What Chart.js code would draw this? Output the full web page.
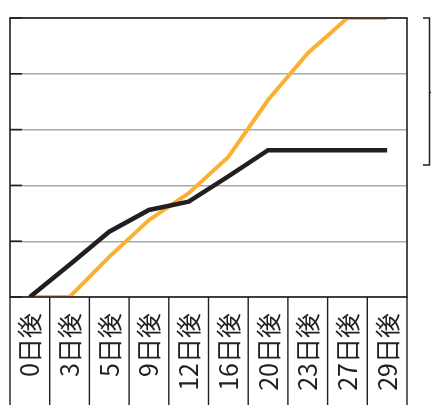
<!DOCTYPE html>
<html>
<head>
<meta charset="utf-8">
<script src="https://cdn.jsdelivr.net/npm/chart.js@4/dist/chart.umd.min.js"></script>
<style>
  html, body { margin: 0; padding: 0; background: #fff; }
  #wrap { width: 431px; height: 405px; }
</style>
</head>
<body>
<div id="wrap"><canvas id="c" width="431" height="405"></canvas></div>
<script>
const DAY_LABELS = ['0日後', '3日後', '5日後', '9日後', '12日後', '16日後', '20日後', '23日後', '27日後', '29日後'];

// values (axis 0..5, no tick labels shown)
const blackSeries = [0, 0.58, 1.17, 1.56, 1.71, 2.16, 2.63, 2.63, 2.63, 2.63];
const orangeSeries = [0, 0, 0.72, 1.38, 1.86, 2.51, 3.53, 4.37, 5, 5];

const Y_MIN = 0;
const Y_MAX = 5;

const DARK = '#231f20';
const ORANGE = '#fbb034';
const GRID = '#a7a9ac';

// frame, inner y ticks, category separators below the axis, bracket on the right
const decoPlugin = {
  id: 'deco',
  afterDraw(chart) {
    const ctx = chart.ctx;
    const area = chart.chartArea;
    const xs = chart.scales.x;
    const ys = chart.scales.y;
    ctx.save();
    ctx.strokeStyle = DARK;
    ctx.lineWidth = 1.6;
    ctx.strokeRect(area.left, area.top, area.right - area.left, area.bottom - area.top);

    // short tick marks inside the left edge
    ys.ticks.forEach(t => {
      const y = ys.getPixelForValue(t.value);
      ctx.beginPath();
      ctx.moveTo(area.left, y);
      ctx.lineTo(area.left + 12, y);
      ctx.stroke();
    });

    // separators between category labels
    ctx.lineWidth = 1.4;
    for (let i = 0; i <= DAY_LABELS.length; i++) {
      const x = xs.getPixelForValue(i - 0.5);
      ctx.beginPath();
      ctx.moveTo(x, area.bottom);
      ctx.lineTo(x, chart.height);
      ctx.stroke();
    }

    // bracket at the right
    ctx.lineWidth = 1.5;
    const bx = 429.5, top = area.top, bot = 165;
    ctx.beginPath();
    ctx.moveTo(423, top);
    ctx.lineTo(bx, top);
    ctx.lineTo(bx, bot);
    ctx.lineTo(423, bot);
    ctx.stroke();
    ctx.beginPath();
    ctx.moveTo(bx, 92.5);
    ctx.lineTo(431, 92.5);
    ctx.stroke();
    ctx.restore();
  }
};

const ctx = document.getElementById('c').getContext('2d');
new Chart(ctx, {
  type: 'line',
  data: {
    labels: DAY_LABELS,
    datasets: [
      {
        label: 'black',
        data: blackSeries,
        borderColor: DARK,
        borderWidth: 4.5,
        pointRadius: 0,
        tension: 0,
        fill: false
      },
      {
        label: 'orange',
        data: orangeSeries,
        borderColor: ORANGE,
        borderWidth: 4,
        pointRadius: 0,
        tension: 0,
        fill: false
      }
    ]
  },
  options: {
    responsive: false,
    animation: false,
    events: [],
    layout: { padding: { left: 10, right: 24, top: 18, bottom: 0 } },
    plugins: {
      legend: { display: false },
      tooltip: { enabled: false }
    },
    scales: {
      x: {
        offset: true,
        grid: { display: false, drawTicks: false },
        border: { display: false },
        afterFit: (scale) => {
          scale.height = 108;
          scale.paddingLeft = 0;
          scale.paddingRight = 0;
        },
        ticks: {
          minRotation: 90,
          maxRotation: 90,
          padding: 16,
          autoSkip: false,
          color: DARK,
          font: { family: '"Noto Sans CJK JP", "Noto Sans", sans-serif', size: 25 }
        }
      },
      y: {
        min: Y_MIN,
        max: Y_MAX,
        grid: { color: GRID, lineWidth: 1.4, drawTicks: false },
        border: { display: false },
        afterFit: (scale) => { scale.width = 0; },
        ticks: { display: false, stepSize: 1 }
      }
    }
  },
  plugins: [decoPlugin]
});
</script>
</body>
</html>
